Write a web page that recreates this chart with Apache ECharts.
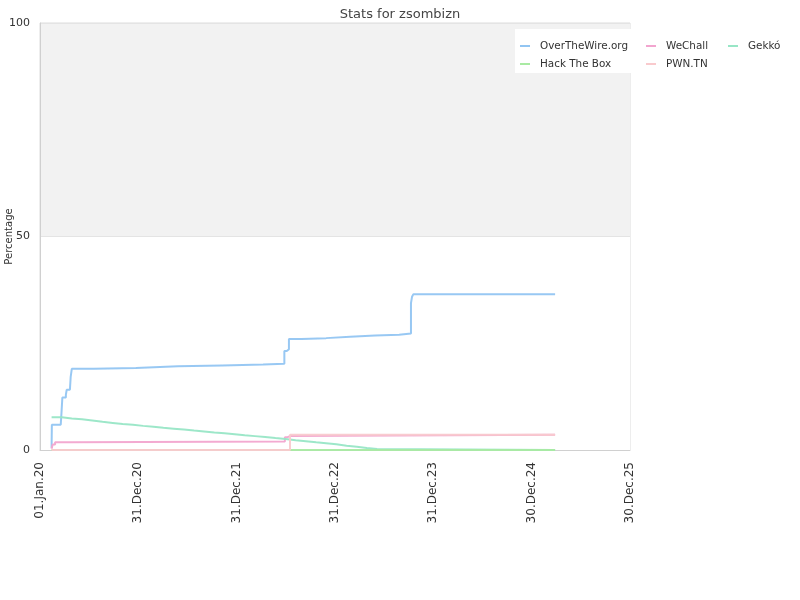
<!DOCTYPE html>
<html>
<head>
<meta charset="utf-8">
<script src="https://cdn.jsdelivr.net/npm/echarts@6/dist/echarts.min.js"></script>
<style>html,body{margin:0;padding:0;background:#fff}#c{width:800px;height:600px}</style>
</head>
<body>
<div id="c"></div>
<script>
// ---- data ----
var seriesNames = ['OverTheWire.org', 'WeChall', 'Gekkó', 'Hack The Box', 'PWN.TN'];
var xTickLabels = ['01.Jan.20', '31.Dec.20', '31.Dec.21', '31.Dec.22', '31.Dec.23', '30.Dec.24', '30.Dec.25'];
var yTickValues = [0, 50, 100];

var overTheWireDates = ['2020-02-13','2020-02-14','2020-03-18','2020-03-21','2020-03-24','2020-04-06','2020-04-09','2020-04-21','2020-04-24','2020-04-28','2020-07-19','2020-12-22','2021-05-27','2021-11-07','2022-04-08','2022-06-26','2022-07-05','2022-07-13','2022-08-29','2022-11-28','2023-02-25','2023-05-29','2023-08-26','2023-10-09','2023-10-13','2023-10-18','2025-03-27'];
var overTheWireValues = [0.5, 5.9, 6.2, 9.0, 12.3, 12.9, 14.1, 14.4, 17.2, 19.0, 19.2, 19.6, 19.8, 20.0, 20.2, 23.2, 23.6, 26.0, 26.2, 26.5, 26.8, 27.0, 27.3, 34.4, 35.9, 36.5, 36.5];

var weChallDates = ['2020-02-13','2020-02-17','2020-02-26','2020-04-30','2022-06-28','2022-07-08','2022-07-19','2025-03-27'];
var weChallValues = [0.3, 1.3, 1.8, 2.0, 3.0, 3.3, 3.6, 3.6];

var gekkoDates = ['2020-02-13','2020-03-22','2020-04-28','2020-06-05','2020-07-13','2020-08-20','2020-09-27','2020-11-03','2020-12-11','2021-01-18','2021-02-25','2021-04-03','2021-05-11','2021-06-18','2021-07-26','2021-09-01','2021-10-09','2021-11-16','2021-12-24','2022-01-30','2022-03-09','2022-04-16','2022-05-24','2022-06-30','2022-08-07','2022-09-14','2022-10-22','2022-11-28','2023-01-05','2023-02-12','2023-03-22','2023-04-28','2023-06-05','2025-03-27'];
var gekkoValues = [7.65, 7.4, 7.2, 6.9, 6.6, 6.35, 6.1, 5.9, 5.65, 5.45, 5.2, 5.0, 4.8, 4.55, 4.35, 4.1, 3.9, 3.7, 3.45, 3.25, 3.05, 2.8, 2.6, 2.3, 2.05, 1.8, 1.6, 1.33, 1.0, 0.78, 0.47, 0.23, 0, 0];

var hackTheBoxDates = ['2020-02-13', '2025-03-27'];
var hackTheBoxValues = [0, 0];

var pwnTnDates = ['2020-02-13', '2022-07-17', '2025-03-27'];
var pwnTnValues = [0, 3.6, 3.6];

// ---- helpers ----
var DAY = 86400000;
var ORIGIN = Date.UTC(2020, 0, 1);
function dayOf(s) {
  var p = s.split('-');
  return Math.round((Date.UTC(+p[0], +p[1] - 1, +p[2]) - ORIGIN) / DAY);
}
function pairs(dates, vals) {
  return dates.map(function (d, i) { return [dayOf(d), vals[i]]; });
}

var colors = ['#92c5f2', '#f2a5cf', '#98e6c6', '#a9eaa3', '#f9cacd'];
var allData = [
  pairs(overTheWireDates, overTheWireValues),
  pairs(weChallDates, weChallValues),
  pairs(gekkoDates, gekkoValues),
  pairs(hackTheBoxDates, hackTheBoxValues),
  pairs(pwnTnDates, pwnTnValues)
];

var series = seriesNames.map(function (n, i) {
  return {
    name: n, type: 'line', step: 'end', showSymbol: false, symbol: 'none',
    data: allData[i], color: colors[i],
    lineStyle: { width: 2, color: colors[i], opacity: 0.95 },
    animation: false, z: 2 + i
  };
});

var FONT = 'DejaVu Sans';
function legendAt(left, names) {
  return {
    data: names, orient: 'vertical', left: left, top: 41, padding: 0,
    itemWidth: 10, itemHeight: 2, itemGap: 8, icon: 'rect',
    textStyle: { fontFamily: FONT, fontSize: 10.4, color: '#333', padding: [0, 0, 0, 5] },
    z: 10
  };
}

var chart = echarts.init(document.getElementById('c'), null, { renderer: 'canvas' });
chart.setOption({
  animation: false,
  backgroundColor: '#fff',
  color: colors,
  title: {
    text: 'Stats for zsombizn', left: 'center', top: 3,
    textStyle: { fontFamily: FONT, fontSize: 13, fontWeight: 'normal', color: '#444' }
  },
  graphic: [{
    type: 'rect', left: 515, top: 29, z: 5,
    shape: { width: 120, height: 44 },
    style: { fill: '#fff' }
  }],
  legend: [
    legendAt(520, ['OverTheWire.org', 'Hack The Box']),
    legendAt(646, ['WeChall', 'PWN.TN']),
    legendAt(728, ['Gekkó'])
  ],
  grid: {
    left: 40, right: 170, top: 23, bottom: 150,
    outerBoundsMode: 'none', containLabel: false,
    show: true, borderColor: '#dcdcdc', borderWidth: 1, backgroundColor: 'transparent'
  },
  xAxis: {
    type: 'value', min: 0, max: 2190, interval: 365,
    axisLine: { show: true, lineStyle: { color: '#d0d0d0' } },
    axisTick: { show: false },
    splitLine: { show: false },
    axisLabel: {
      rotate: 90, margin: 12, fontFamily: FONT, fontSize: 12, color: '#333',
      formatter: function (v) { var i = Math.round(v / 365); return xTickLabels[i] || ''; }
    }
  },
  yAxis: {
    type: 'value', min: yTickValues[0], max: yTickValues[yTickValues.length - 1], interval: 50,
    name: 'Percentage', nameLocation: 'middle', nameGap: 26, nameMoveOverlap: false,
    nameTextStyle: { fontFamily: FONT, fontSize: 10, color: '#333' },
    axisLine: { show: true, lineStyle: { color: '#d0d0d0' } },
    axisTick: { show: false },
    splitLine: { show: true, lineStyle: { color: '#e4e4e4' } },
    splitArea: { show: true, areaStyle: { color: ['#ffffff', '#f2f2f2'] } },
    axisLabel: { margin: 10, fontFamily: FONT, fontSize: 11, color: '#333' }
  },
  series: series
});
</script>
</body>
</html>
